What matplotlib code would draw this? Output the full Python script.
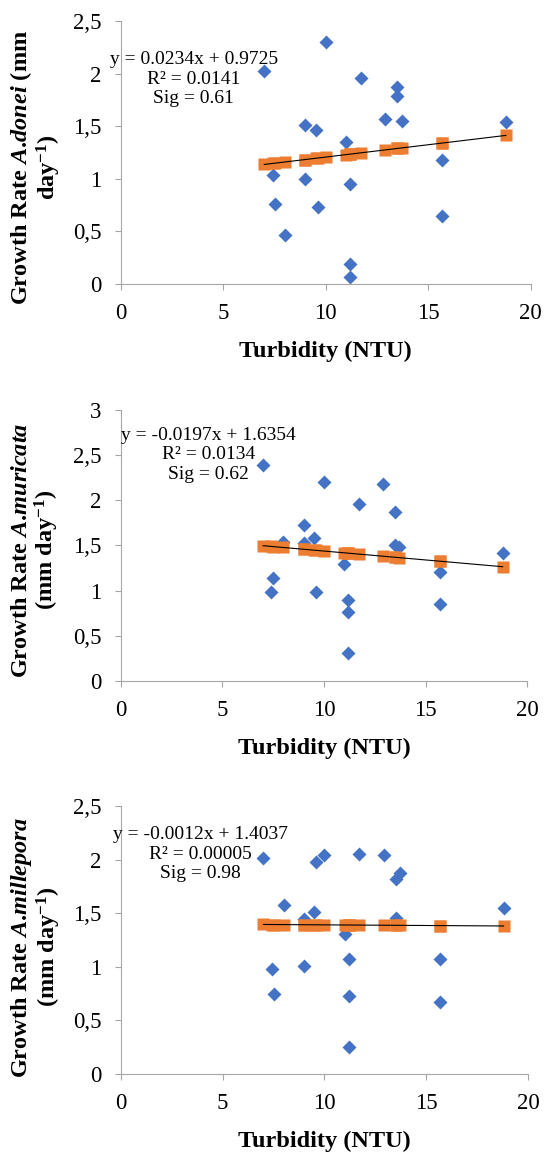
import numpy as np
import matplotlib
matplotlib.use("agg")
import matplotlib.pyplot as plt
from matplotlib.ticker import FuncFormatter

# turbidity (NTU) at each coral fragment
turbidity = [7.0, 7.4, 7.5, 8.0, 9.0, 9.0, 9.5, 9.6, 10.0, 11.0, 11.2,
             11.2, 11.2, 11.7, 12.9, 13.5, 13.5, 13.7, 15.7, 15.7, 18.8]

# growth rates (mm day-1)
donei = [2.02, 1.04, 0.76, 0.47, 1.51, 1.00, 1.46, 0.73, 2.30, 1.35, 0.95,
         0.19, 0.07, 1.96, 1.57, 1.87, 1.79, 1.55, 1.18, 0.65, 1.54]
muricata = [2.39, 0.98, 1.14, 1.54, 1.73, 1.53, 1.58, 0.98, 2.20, 1.29, 0.90,
            0.76, 0.31, 1.96, 2.18, 1.87, 1.50, 1.48, 1.21, 0.85, 1.42]
millepora = [2.02, 0.98, 0.75, 1.58, 1.45, 1.01, 1.51, 1.98, 2.04, 1.31, 1.07,
             0.73, 0.25, 2.05, 2.04, 1.82, 1.46, 1.88, 1.07, 0.67, 1.55]

# regression results printed on each panel
species = ['donei', 'muricata', 'millepora']
slopes = [0.0234, -0.0197, -0.0012]
intercepts = [0.9725, 1.6354, 1.4037]
r2_labels = ['0.0141', '0.0134', '0.00005']
sig_labels = ['0.61', '0.62', '0.98']
y_max = [2.5, 3.0, 2.5]

plt.rcParams['font.family'] = 'Liberation Serif'
plt.rcParams['mathtext.fontset'] = 'custom'
plt.rcParams['mathtext.rm'] = 'Liberation Serif'
plt.rcParams['mathtext.it'] = 'Liberation Serif:italic'
plt.rcParams['mathtext.bf'] = 'Liberation Serif:bold'
plt.rcParams['mathtext.bfit'] = 'Liberation Serif:italic:bold'

BLUE = '#4472C4'
ORANGE = '#ED7D31'
GREY = '#A6A6A6'


def comma_fmt(v, pos):
    s = ('%.1f' % v).rstrip('0').rstrip('.')
    return s.replace('.', ',')


fig = plt.figure(figsize=(5.45, 11.53), dpi=100)

# [left, bottom, width, height] in figure fraction
boxes = [[0.222, 0.7537, 0.7514, 0.2281],
         [0.222, 0.4094, 0.7450, 0.2350],
         [0.222, 0.0685, 0.7468, 0.2324]]
ylabels = [r'Growth Rate $\mathbfit{A}$.$\mathbfit{donei}$ (mm' + '\n' + r'day$^{\mathbf{-1}}$)',
           r'Growth Rate $\mathbfit{A}$.$\mathbfit{muricata}$' + '\n' + r'(mm day$^{\mathbf{-1}}$)',
           r'Growth Rate $\mathbfit{A}$.$\mathbfit{millepora}$' + '\n' + r'(mm day$^{\mathbf{-1}}$)']
ylabel_y = [0.443, 0.483, 0.473]
eq_pos = [(0.178, 0.778), (0.216, 0.834), (0.196, 0.821)]

x = np.array(turbidity)
for i, growth in enumerate([donei, muricata, millepora]):
    ax = fig.add_axes(boxes[i])
    fitted = slopes[i] * x + intercepts[i]

    ax.plot(x, growth, 'D', color=BLUE, ms=7, mec='none', zorder=2)
    ax.plot(x, fitted, 's', color=ORANGE, ms=9, mec='none', zorder=3)
    xs = np.array([x.min(), x.max()])
    ax.plot(xs, slopes[i] * xs + intercepts[i], color='black', lw=0.8, zorder=4)

    ax.set_xlim(0, 20)
    ax.set_ylim(0, y_max[i])
    ax.set_xticks([0, 5, 10, 15, 20])
    ax.set_yticks(np.arange(0, y_max[i] + 0.01, 0.5))
    ax.yaxis.set_major_formatter(FuncFormatter(comma_fmt))

    for side in ['top', 'right']:
        ax.spines[side].set_visible(False)
    for side in ['left', 'bottom']:
        ax.spines[side].set_color(GREY)
        ax.spines[side].set_linewidth(0.8)
    ax.tick_params(axis='x', direction='out', length=4, width=0.8,
                   color=GREY, labelsize=16.5, pad=9.5)
    ax.tick_params(axis='y', direction='out', length=4, width=0.8,
                   color=GREY, labelsize=16.5, pad=10)

    ax.set_xlabel('Turbidity (NTU)', fontsize=17.5, fontweight='bold', labelpad=12)
    ax.text(-0.209, ylabel_y[i], ylabels[i], transform=ax.transAxes,
            rotation=90, ha='center', va='center', multialignment='center',
            fontsize=17.5, fontweight='bold', linespacing=1.05)

    sign = '-' if slopes[i] < 0 else ''
    eq = 'y = %s%.4fx + %.4f\nR² = %s\nSig = %s' % (
        sign, abs(slopes[i]), intercepts[i], r2_labels[i], sig_labels[i])
    ax.text(eq_pos[i][0], eq_pos[i][1], eq, transform=ax.transAxes,
            ha='center', va='center', multialignment='center', fontsize=14)

plt.savefig('out.png', dpi=100)
